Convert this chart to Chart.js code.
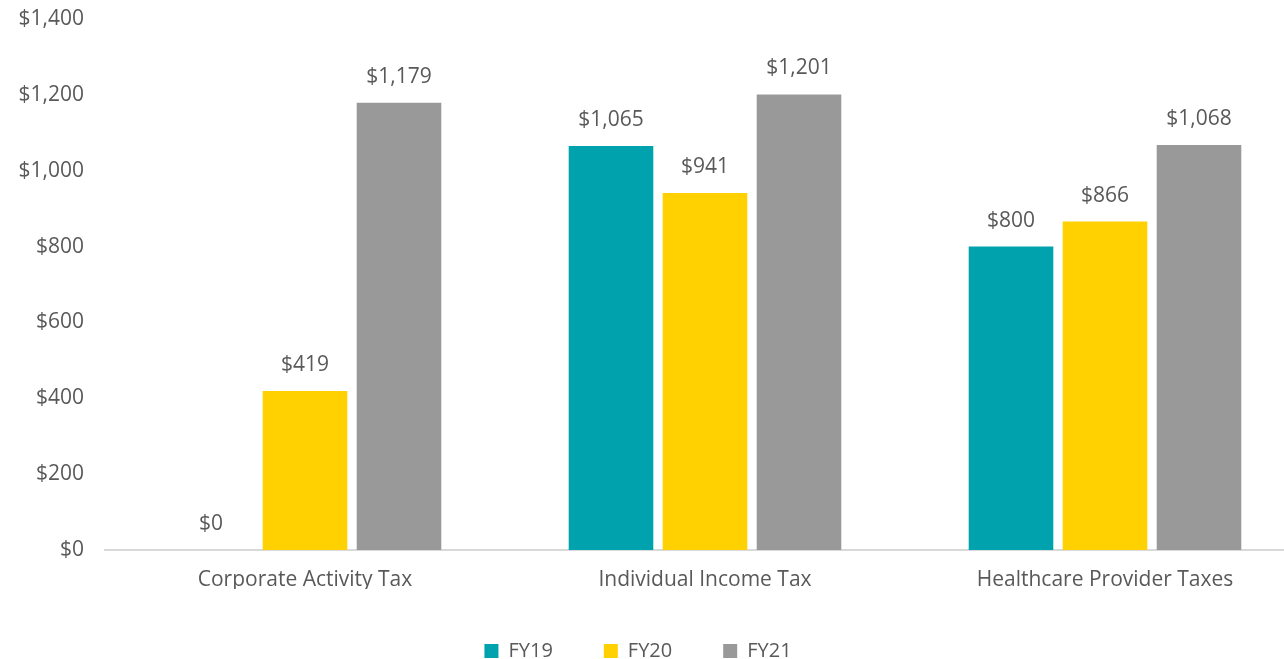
<!DOCTYPE html>
<html>
<head>
<meta charset="utf-8">
<script src="https://cdn.jsdelivr.net/npm/chart.js@4"></script>
<style>
  html, body { margin: 0; padding: 0; background: #fff; overflow: hidden; }
  #wrap { width: 1284px; height: 659px; }
</style>
</head>
<body>
<div id="wrap"><canvas id="chart"></canvas></div>
<script>
const categories = ['Corporate Activity Tax', 'Individual Income Tax', 'Healthcare Provider Taxes'];
const fy19 = [0, 1065, 800];
const fy20 = [419, 941, 866];
const fy21 = [1179, 1201, 1068];
const seriesNames = ['FY19', 'FY20', 'FY21'];
const yTicks = [0, 200, 400, 600, 800, 1000, 1200, 1400];

const textColor = '#595959';
const fontFamily = '"Open Sans", "Noto Sans", sans-serif';

function money(v) {
  return '$' + v.toLocaleString('en-US');
}

// value labels above each bar
const barLabels = {
  id: 'barLabels',
  afterDatasetsDraw(chart) {
    const ctx = chart.ctx;
    ctx.save();
    ctx.font = '21px ' + fontFamily;
    ctx.fillStyle = textColor;
    ctx.textAlign = 'center';
    ctx.textBaseline = 'middle';
    chart.data.datasets.forEach((ds, i) => {
      chart.getDatasetMeta(i).data.forEach((bar, j) => {
        ctx.fillText(money(ds.data[j]), bar.x, bar.y - 26);
      });
    });
    ctx.restore();
  }
};

// the original plot area runs past the right edge of the picture, so pin it here
const plotBox = {
  id: 'plotBox',
  afterLayout(chart) {
    const area = { left: 105, right: 1305, top: 19, bottom: 550 };
    const a = chart.chartArea;
    Object.assign(a, area, { width: area.right - area.left, height: area.bottom - area.top });
    const x = chart.scales.x, y = chart.scales.y;
    Object.assign(x, { left: area.left, right: area.right, width: a.width, top: area.bottom, bottom: area.bottom + 39, height: 39 });
    Object.assign(y, { left: 0, right: area.left, width: area.left, top: area.top, bottom: area.bottom, height: a.height });
    x.configure();
    y.configure();
    const lg = chart.legend;
    lg.left -= 4;
    lg.right -= 4;
  }
};

new Chart(document.getElementById('chart'), {
  type: 'bar',
  data: {
    labels: categories,
    datasets: [
      { label: seriesNames[0], data: fy19, backgroundColor: '#00A3AD' },
      { label: seriesNames[1], data: fy20, backgroundColor: '#FFD100' },
      { label: seriesNames[2], data: fy21, backgroundColor: '#999999' }
    ]
  },
  options: {
    responsive: true,
    maintainAspectRatio: false,
    animation: false,
    datasets: { bar: { categoryPercentage: 0.705, barPercentage: 0.9 } },
    layout: { padding: { top: 0, right: 0, left: 0, bottom: -12 } },
    plugins: {
      tooltip: { enabled: false },
      legend: {
        position: 'bottom',
        labels: {
          color: textColor,
          font: { family: fontFamily, size: 20 },
          boxWidth: 14,
          boxHeight: 14,
          padding: 51
        }
      }
    },
    scales: {
      x: {
        grid: { display: false, drawTicks: false },
        border: { color: '#d9d9d9', width: 2 },
        ticks: { color: textColor, font: { family: fontFamily, size: 21 }, padding: 17 },
        afterFit(scale) { scale.height = 39; }
      },
      y: {
        min: 0,
        max: 1400,
        afterBuildTicks(scale) { scale.ticks = yTicks.map(v => ({ value: v })); },
        grid: { display: false, drawTicks: false },
        border: { display: false },
        ticks: {
          color: textColor,
          font: { family: fontFamily, size: 21 },
          padding: 21,
          callback: v => money(v)
        },
        afterFit(scale) { scale.width = 105; }
      }
    }
  },
  plugins: [barLabels, plotBox]
});
</script>
</body>
</html>
